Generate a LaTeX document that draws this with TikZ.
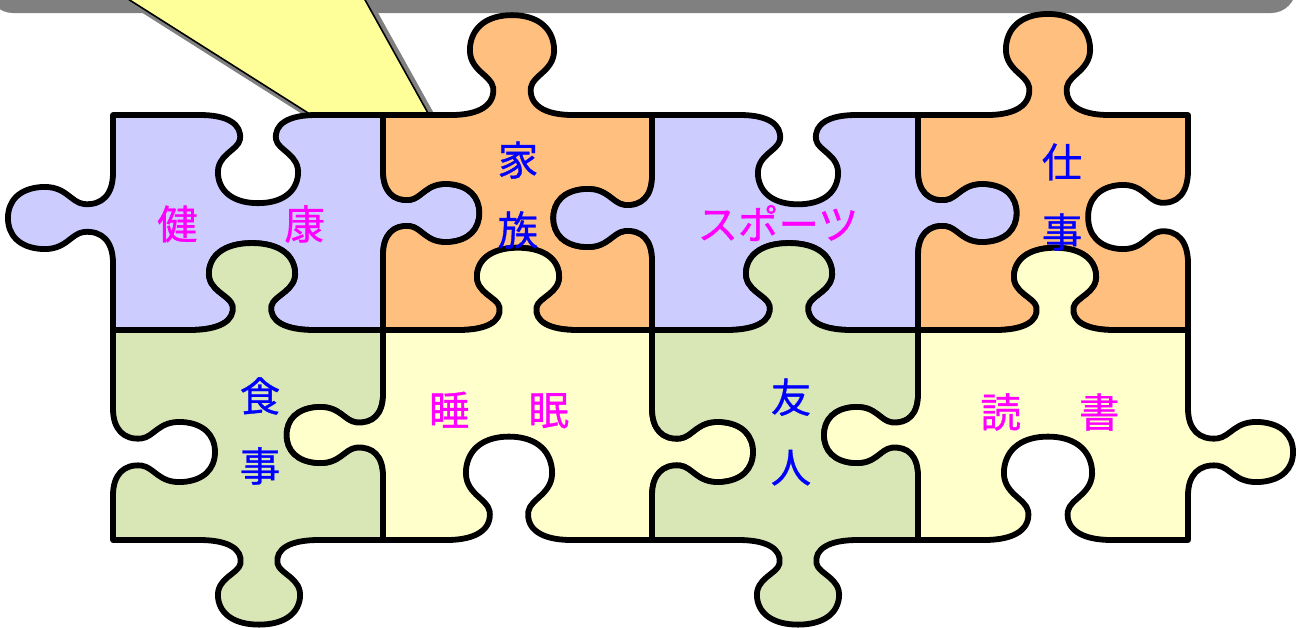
\documentclass[tikz,border=0pt]{standalone}
\usepackage{fontspec}
\newfontfamily\jpfont[FakeBold=0.8]{Noto Sans CJK JP}
\definecolor{lav}{HTML}{CCCCFF}
\definecolor{org}{HTML}{FFBF7F}
\definecolor{grn}{HTML}{D8E7B5}
\definecolor{ylw}{HTML}{FFFFCC}
\definecolor{callout}{HTML}{FFFF99}
\definecolor{shd}{HTML}{808080}
\definecolor{mag}{HTML}{FF00FF}
\definecolor{blu}{HTML}{0000FF}
% horizontal edge knob: centre x, centre y, signed along-edge scale, signed protrusion scale
\newcommand\pzh[4]{%
 -- ({#1-1.45*(#3)},{#2})
 .. controls ({#1-0.75*(#3)},{#2}) and ({#1-0.4*(#3)},{#2+0.25*(#4)}) .. ({#1-0.45*(#3)},{#2+0.65*(#4)})
 .. controls ({#1-0.5*(#3)},{#2+0.95*(#4)}) and ({#1-1.05*(#3)},{#2+1.05*(#4)}) .. ({#1-1.0*(#3)},{#2+1.6*(#4)})
 .. controls ({#1-0.95*(#3)},{#2+2.1*(#4)}) and ({#1-0.55*(#3)},{#2+2.35*(#4)}) .. ({#1},{#2+2.35*(#4)})
 .. controls ({#1+0.55*(#3)},{#2+2.35*(#4)}) and ({#1+0.95*(#3)},{#2+2.1*(#4)}) .. ({#1+1.0*(#3)},{#2+1.6*(#4)})
 .. controls ({#1+1.05*(#3)},{#2+1.05*(#4)}) and ({#1+0.5*(#3)},{#2+0.95*(#4)}) .. ({#1+0.45*(#3)},{#2+0.65*(#4)})
 .. controls ({#1+0.4*(#3)},{#2+0.25*(#4)}) and ({#1+0.75*(#3)},{#2}) .. ({#1+1.45*(#3)},{#2})
}
% vertical edge knob
\newcommand\pzv[4]{%
 -- ({#1},{#2-1.45*(#3)})
 .. controls ({#1},{#2-0.75*(#3)}) and ({#1+0.25*(#4)},{#2-0.4*(#3)}) .. ({#1+0.65*(#4)},{#2-0.45*(#3)})
 .. controls ({#1+0.95*(#4)},{#2-0.5*(#3)}) and ({#1+1.05*(#4)},{#2-1.05*(#3)}) .. ({#1+1.6*(#4)},{#2-1.0*(#3)})
 .. controls ({#1+2.1*(#4)},{#2-0.95*(#3)}) and ({#1+2.35*(#4)},{#2-0.55*(#3)}) .. ({#1+2.35*(#4)},{#2})
 .. controls ({#1+2.35*(#4)},{#2+0.55*(#3)}) and ({#1+2.1*(#4)},{#2+0.95*(#3)}) .. ({#1+1.6*(#4)},{#2+1.0*(#3)})
 .. controls ({#1+1.05*(#4)},{#2+1.05*(#3)}) and ({#1+0.95*(#4)},{#2+0.5*(#3)}) .. ({#1+0.65*(#4)},{#2+0.45*(#3)})
 .. controls ({#1+0.25*(#4)},{#2+0.4*(#3)}) and ({#1},{#2+0.75*(#3)}) .. ({#1},{#2+1.45*(#3)})
}
\tikzset{
  piece/.style={draw=black, line width=3.3pt, line join=round},
  lbl/.style={font=\jpfont\fontsize{23pt}{39.8pt}\selectfont, inner sep=0pt, align=center},
  magl/.style={lbl, text=mag},
  blul/.style={lbl, text=blu},
}
\begin{document}
\begin{tikzpicture}[x=0.02cm, y=-0.02cm]
\useasboundingbox (0,0) rectangle (1304,627);
\clip (0,0) rectangle (1304,627);
% callout shadow bar and pointer
\fill[shd, rounded corners=0.5cm] (-12,-60) rectangle (1296,13);
\fill[shd] (111,-7) -- (506,243) -- (367,-7) -- cycle;
\fill[callout] (98,-20) -- (493,230) -- (354,-20) -- cycle;
\coordinate (pl) at (98,-20);
\coordinate (pt) at (493,230);
\coordinate (pr) at (354,-20);
\draw[line width=0.9pt] (pl) -- (pt) -- (pr);
% top row
\path[piece, fill=lav] (113,115) \pzh{258}{115}{40}{37.5} -- (383,115) \pzv{383}{213}{29}{41} -- (383,330) \pzh{252}{330}{-43}{-37} -- (113,330) \pzv{113}{218}{-31}{-44.7} -- cycle;
\path[piece, fill=org] (383,115) \pzh{512}{115}{42}{-42.5} -- (652,115) \pzv{652}{218}{29}{-42} -- (652,330) \pzh{518}{330}{-41}{-35} -- (383,330) \pzv{383}{213}{-29}{41} -- cycle;
\path[piece, fill=lav] (652,115) \pzh{798}{115}{40}{38} -- (918,115) \pzv{918}{213}{29}{42} -- (918,330) \pzh{789}{330}{-43}{-37} -- (652,330) \pzv{652}{218}{-29}{-42} -- cycle;
\path[piece, fill=org] (918,115) \pzh{1048}{115}{42}{-43} -- (1188,115) \pzv{1188}{217}{32}{-42.5} -- (1188,330) \pzh{1055}{330}{-41}{-35} -- (918,330) \pzv{918}{213}{-29}{42} -- cycle;
% bottom row
\path[piece, fill=grn] (113,330) \pzh{252}{330}{43}{-37} -- (383,330) \pzv{383}{435}{28}{-41} -- (383,540) \pzh{259}{540}{-41}{36} -- (113,540) \pzv{113}{452}{-30}{43.4} -- cycle;
\path[piece, fill=ylw] (383,330) \pzh{518}{330}{41}{-35} -- (652,330) \pzv{652}{452}{30}{43} -- (652,540) \pzh{509}{540}{-43}{-44} -- (383,540) \pzv{383}{435}{-28}{-41} -- cycle;
\path[piece, fill=grn] (652,330) \pzh{789}{330}{43}{-37} -- (918,330) \pzv{918}{435}{28}{-40} -- (918,540) \pzh{798}{540}{-41}{36} -- (652,540) \pzv{652}{452}{-30}{43} -- cycle;
\path[piece, fill=ylw] (918,330) \pzh{1055}{330}{41}{-35} -- (1188,330) \pzv{1188}{452}{30}{44.7} -- (1188,540) \pzh{1048}{540}{-44}{-44} -- (918,540) \pzv{918}{435}{-28}{-40} -- cycle;
% labels
\node[magl] (kenko) at (241,224) {健\hspace{1.74cm}康};
\node[blul] (kazoku) at (518,195) {家\\族};
\node[magl] (sports) at (778,223) {スポーツ};
\node[blul] (shigoto) at (1062,197) {仕\\事};
\node[blul] (shokuji) at (260,431) {食\\事};
\node[magl] (suimin) at (499,410) {睡\hspace{1.18cm}眠};
\node[blul] (yujin) at (791,432) {友\\人};
\node[magl] (dokusho) at (1050,412) {読\hspace{1.16cm}書};
\end{tikzpicture}
\end{document}
